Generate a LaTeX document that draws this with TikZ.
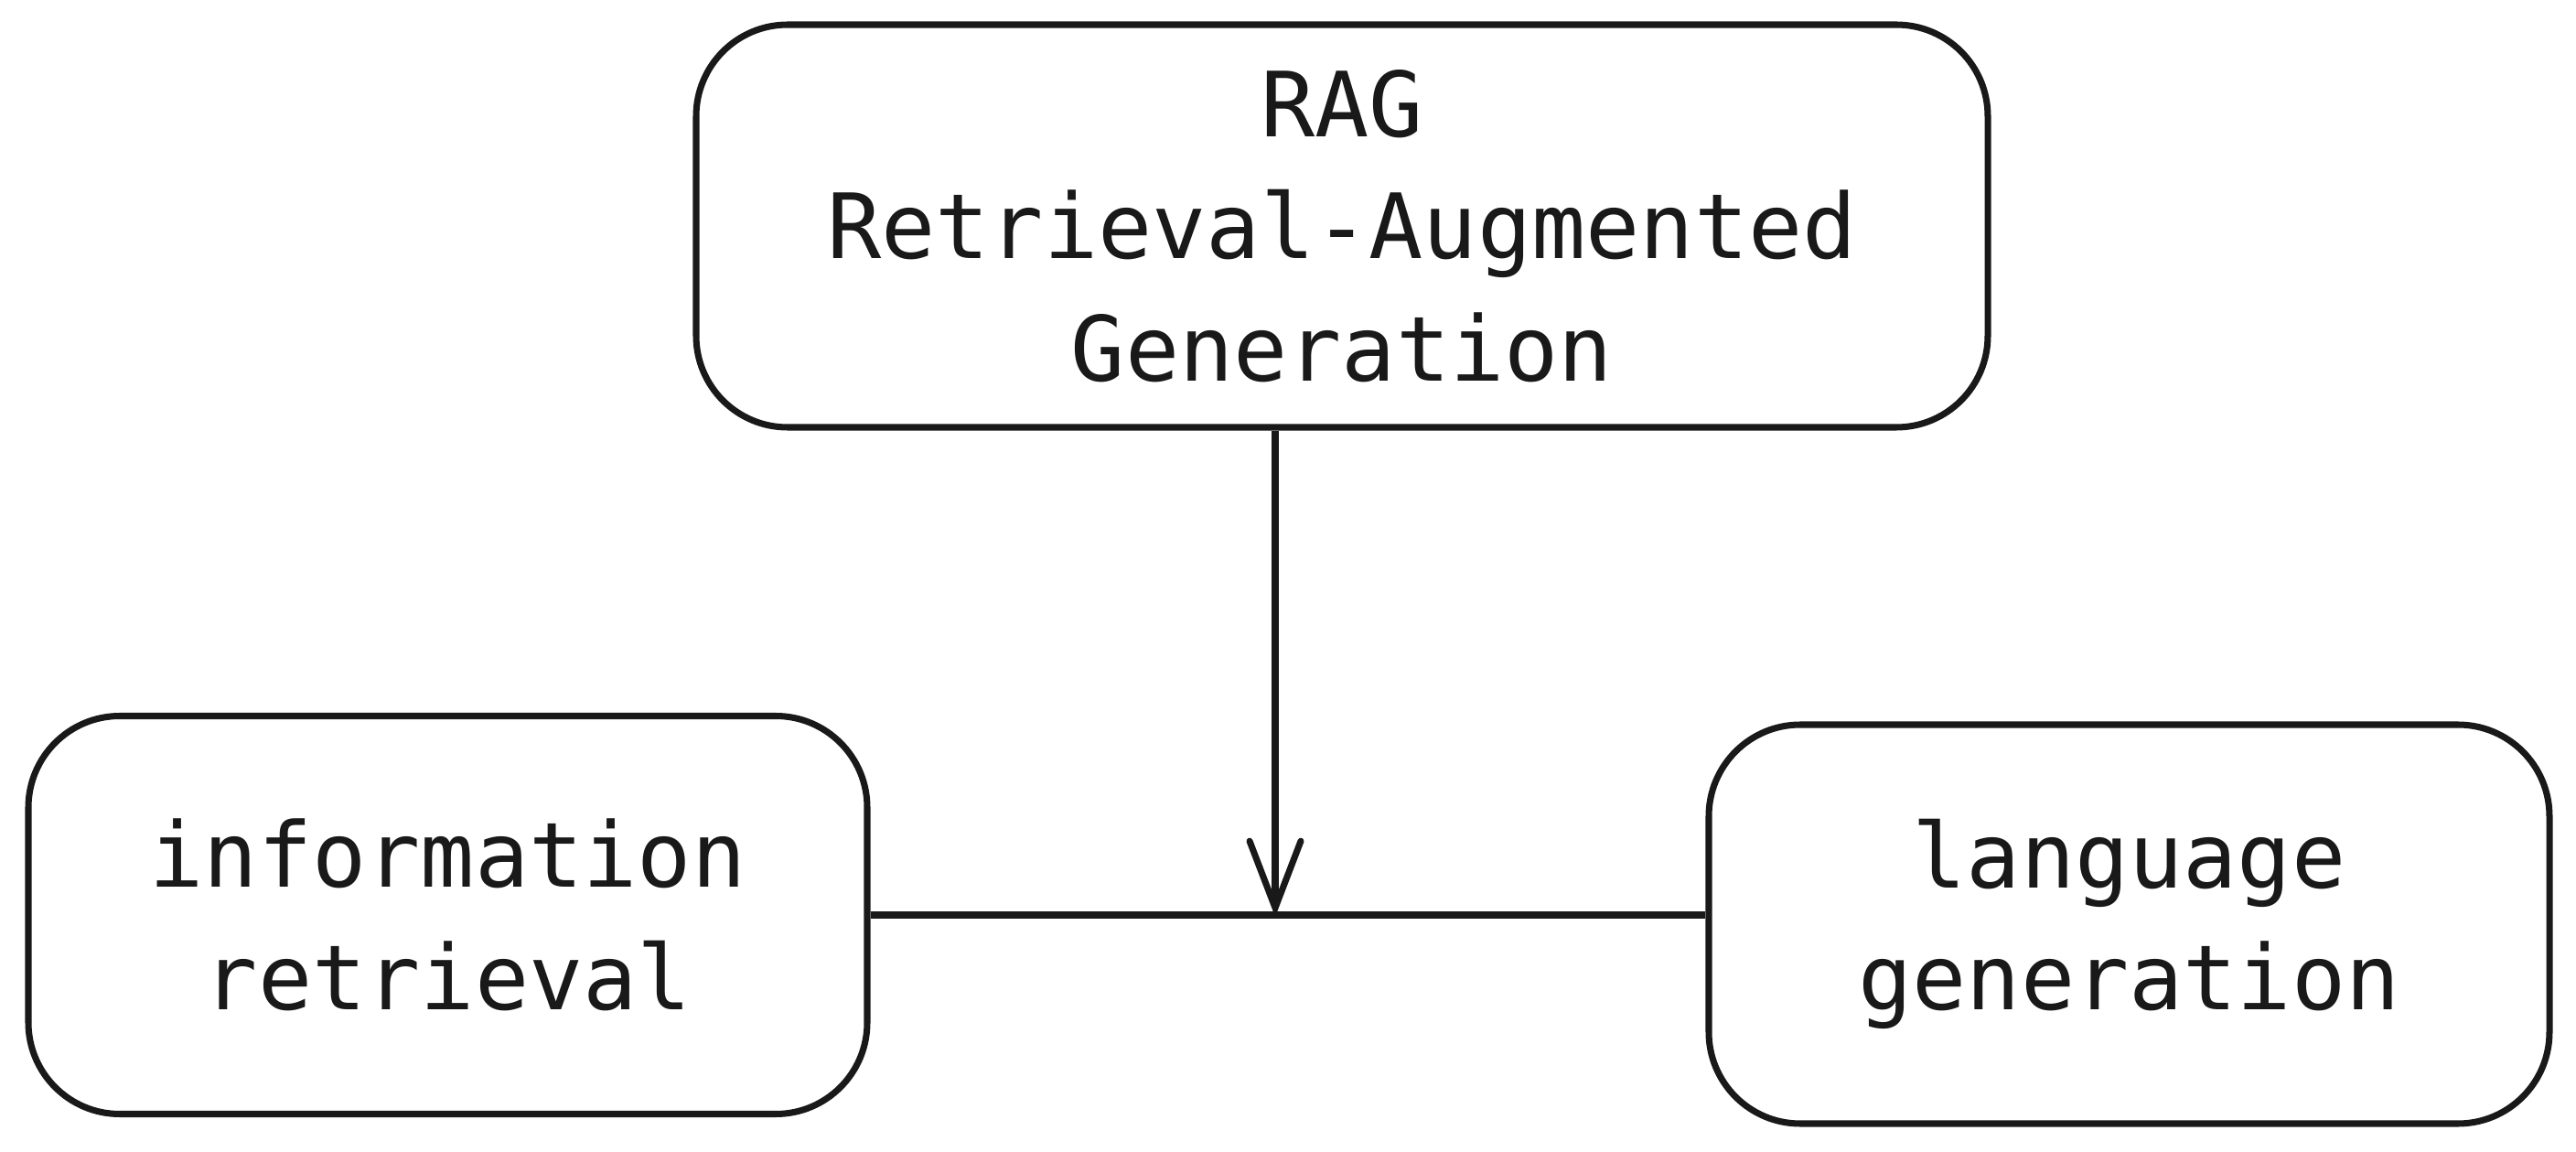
\documentclass[tikz,border=0pt]{standalone}
\usepackage{fontspec}
\setmonofont{DejaVu Sans Mono}
\usetikzlibrary{arrows.meta,positioning}

\begin{document}
\begin{tikzpicture}[
    box/.style={rectangle, draw=black!90, line width=2pt, rounded corners=1cm, align=center,
        font=\ttfamily\fontsize{28}{38}\selectfont, text=black!90},
    arrow/.style={-{Straight Barb[length=7.3mm,width=5.6mm,line cap=round]}, line width=2pt, draw=black!90},
    link/.style={line width=2pt, draw=black!90}
]
    \useasboundingbox[fill=white] (0,0) rectangle (28.16,-12.59);

    % Boxes
    \node[box, minimum width=14.12cm, minimum height=4.40cm] (rag) at (14.67,-2.47)
        {RAG\\Retrieval-Augmented\\Generation};
    \node[box, minimum width=9.17cm, minimum height=4.35cm] (retrieval) at (4.895,-10.0)
        {information\\retrieval};
    \node[box, minimum width=9.19cm, minimum height=4.36cm] (generation) at (23.275,-10.1)
        {language\\generation};

    % Connectors
    \coordinate (join) at (13.94,-10.02);
    \draw[link] (retrieval.east) -- (retrieval.east -| generation.west);
    \draw[arrow] (rag.south -| join) -- (join);

\end{tikzpicture}
\end{document}
